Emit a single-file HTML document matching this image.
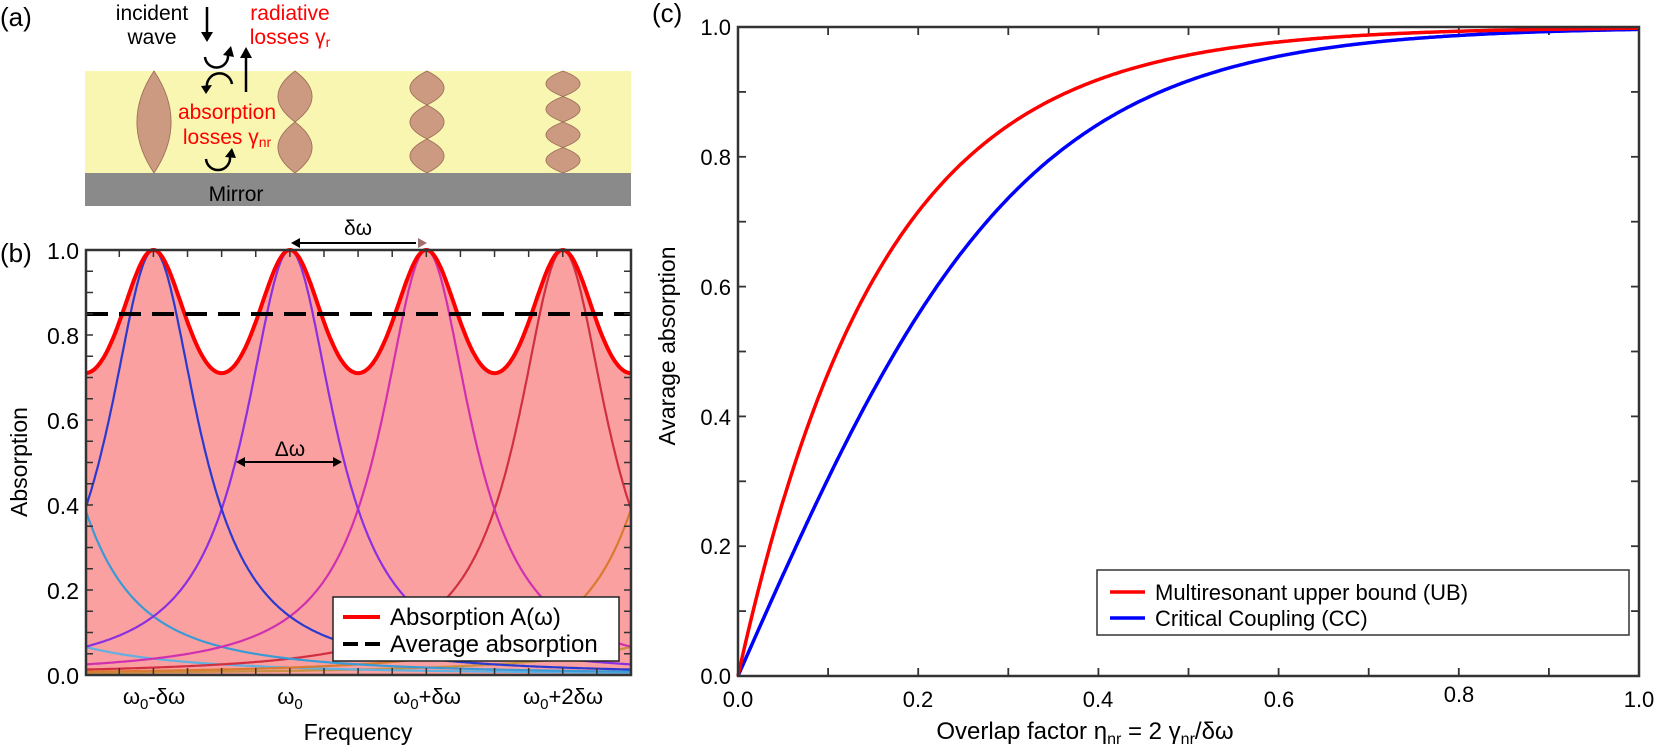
<!DOCTYPE html>
<html><head><meta charset="utf-8"><style>
html,body{margin:0;padding:0;background:#fff;}
svg{display:block;font-family:"Liberation Sans",sans-serif;}
</style></head><body>
<svg id="s" width="1661" height="746" viewBox="0 0 1661 746" xmlns="http://www.w3.org/2000/svg">
<!-- panel a -->
<rect x="85" y="71" width="546" height="102" fill="#f8f6b0"/>
<rect x="85" y="173" width="546" height="33" fill="#8a8a8a"/>
<g fill="#cc9a80" stroke="#9a6a5a" stroke-width="0.8" id="lenses"></g>
<text x="0" y="26" font-size="26">(a)</text>
<text x="152" y="20" font-size="21" text-anchor="middle">incident</text>
<text x="152" y="44" font-size="21" text-anchor="middle">wave</text>
<text x="290" y="20" font-size="21" fill="#ff0000" text-anchor="middle">radiative</text>
<text x="290" y="44" font-size="21" fill="#ff0000" text-anchor="middle">losses γ<tspan font-size="14" dy="3">r</tspan></text>
<text x="227" y="119" font-size="21" fill="#ff0000" text-anchor="middle">absorption</text>
<text x="227" y="144" font-size="21" fill="#ff0000" text-anchor="middle">losses γ<tspan font-size="14" dy="3">nr</tspan></text>
<text x="236" y="201" font-size="21" text-anchor="middle">Mirror</text>
<g stroke="#000" stroke-width="2.5" fill="none">
<line x1="207" y1="7" x2="207" y2="36"/>
<line x1="246" y1="92" x2="246" y2="56"/>
<path d="M205,57 A11,11 0 0 0 228,55"/>
<path d="M207,88 A11,11 0 0 1 232,84"/>
<path d="M206,159 A11,11 0 0 0 230,157"/>
</g>
<g fill="#000">
<polygon points="201,32 213,32 207,42"/>
<polygon points="240,58 252,58 246,47"/>
<polygon points="223,55 234,57 231,46"/>
<polygon points="201,86 212,85 206,94"/>
<polygon points="225,157 236,158 232,148"/>
</g>
<!-- panel b -->
<text x="0" y="262" font-size="26">(b)</text>
<path id="fill" fill="#fba0a0"/>
<g id="lor" fill="none" stroke-width="2.2"></g>
<path id="red" fill="none" stroke="#ff0000" stroke-width="4"/>
<line x1="86" y1="314" x2="631" y2="314" stroke="#000" stroke-width="4" stroke-dasharray="22,11"/>
<g id="baxes" stroke="#333" stroke-width="1.5"></g>
<rect x="86" y="250" width="545" height="425" fill="none" stroke="#333" stroke-width="2.5"/>
<g font-size="23" text-anchor="end">
<text x="79" y="259">1.0</text><text x="79" y="344">0.8</text><text x="79" y="429">0.6</text>
<text x="79" y="514">0.4</text><text x="79" y="599">0.2</text><text x="79" y="684">0.0</text>
</g>
<g font-size="22" text-anchor="middle">
<text x="154" y="704">ω<tspan font-size="15" dy="5">0</tspan><tspan dy="-5">-δω</tspan></text>
<text x="290" y="704">ω<tspan font-size="15" dy="5">0</tspan></text>
<text x="427" y="704">ω<tspan font-size="15" dy="5">0</tspan><tspan dy="-5">+δω</tspan></text>
<text x="563" y="704">ω<tspan font-size="15" dy="5">0</tspan><tspan dy="-5">+2δω</tspan></text>
<text x="358" y="740" font-size="23">Frequency</text>
<text transform="translate(27,462) rotate(-90)" font-size="23">Absorption</text>
<text x="358" y="235" font-size="21">δω</text>
<text x="290" y="456" font-size="21">Δω</text>
</g>
<g stroke="#000" stroke-width="2">
<line x1="296" y1="243" x2="416" y2="243"/>
<line x1="242" y1="462" x2="336" y2="462"/>
</g>
<polygon points="291,243 300,238 300,248" fill="#000"/>
<polygon points="427,243 418,238 418,248" fill="#a07070"/>
<polygon points="236,462 245,457 245,467" fill="#000"/>
<polygon points="342,462 333,457 333,467" fill="#000"/>
<rect x="333" y="597" width="286" height="64" fill="#fff" stroke="#222" stroke-width="1.5"/>
<line x1="343" y1="617" x2="380" y2="617" stroke="#ff0000" stroke-width="4"/>
<line x1="343" y1="644" x2="380" y2="644" stroke="#000" stroke-width="4" stroke-dasharray="15,7"/>
<text x="390" y="625" font-size="24">Absorption A(ω)</text>
<text x="390" y="652" font-size="24">Average absorption</text>
<!-- panel c -->
<text x="652" y="22" font-size="26">(c)</text>
<g id="caxes" stroke="#333" stroke-width="1.8"></g>
<path id="cb" fill="none" stroke="#0000ff" stroke-width="3.5"/>
<path id="cr" fill="none" stroke="#ff0000" stroke-width="3.5"/>
<rect x="738" y="27" width="901" height="649" fill="none" stroke="#333" stroke-width="2.5"/>
<g font-size="22" text-anchor="end">
<text x="731" y="35">1.0</text><text x="731" y="165">0.8</text><text x="731" y="295">0.6</text>
<text x="731" y="425">0.4</text><text x="731" y="554">0.2</text><text x="731" y="684">0.0</text>
</g>
<g font-size="22" text-anchor="middle">
<text x="738" y="707">0.0</text><text x="918" y="707">0.2</text><text x="1098" y="707">0.4</text>
<text x="1279" y="707">0.6</text><text x="1459" y="702">0.8</text><text x="1639" y="707">1.0</text>
<text x="1085" y="739" font-size="24">Overlap factor η<tspan font-size="16" dy="5">nr</tspan><tspan dy="-5"> = 2 γ</tspan><tspan font-size="16" dy="5">nr</tspan><tspan dy="-5">/δω</tspan></text>
<text transform="translate(675,346) rotate(-90)" font-size="23">Avarage absorption</text>
</g>
<rect x="1097" y="570" width="532" height="65" fill="#fff" stroke="#333" stroke-width="1.5"/>
<line x1="1110" y1="592" x2="1145" y2="592" stroke="#ff0000" stroke-width="3.5"/>
<line x1="1110" y1="618" x2="1145" y2="618" stroke="#0000ff" stroke-width="3.5"/>
<text x="1155" y="600" font-size="22">Multiresonant upper bound (UB)</text>
<text x="1155" y="626" font-size="22">Critical Coupling (CC)</text>
</svg>
<script>
var NS="http://www.w3.org/2000/svg";
function el(p,t,a){var e=document.createElementNS(NS,t);for(var k in a)e.setAttribute(k,a[k]);p.appendChild(e);return e;}
var L=document.getElementById('lenses');
function lobes(cx,n){var top=71,h=102/n;for(var i=0;i<n;i++){var y0=top+i*h,y1=y0+h,w=18;
el(L,'path',{d:'M'+cx+','+y0+' Q'+(cx+w*1.9)+','+((y0+y1)/2)+' '+cx+','+y1+' Q'+(cx-w*1.9)+','+((y0+y1)/2)+' '+cx+','+y0+'Z'});}}
lobes(154,1);lobes(295,2);lobes(427,3);lobes(563,4);
var X0=86,X1=631,Y0=675,Y1=250,xa=-0.494,xb=3.5;
function px(x){return X0+(x-xa)/(xb-xa)*(X1-X0);}
function py(y){return Y0-y*(Y0-Y1);}
function red(x){var s=Math.sin(Math.PI*x);return 1/(1+0.408*s*s);}
var d='',f='M'+X0+','+Y0;
for(var i=0;i<=600;i++){var x=xa+(xb-xa)*i/600,X=px(x).toFixed(1),Y=py(red(x)).toFixed(1);d+=(i?'L':'M')+X+','+Y;f+='L'+X+','+Y;}
f+='L'+X1+','+Y0+'Z';
document.getElementById('red').setAttribute('d',d);document.getElementById('fill').setAttribute('d',f);
var cols={'-1':'#3a9ad6','0':'#2a3ad0','1':'#8a30e0','2':'#d030b0','3':'#d03040','4':'#d87a30','5':'#c89040','-2':'#60b0e0'};
var G=document.getElementById('lor');
[5,-2,4,3,-1,2,1,0].forEach(function(c){var dd='';for(var i=0;i<=400;i++){var x=xa+(xb-xa)*i/400,u=(x-c)/0.4,v=1/(1+u*u);dd+=(i?'L':'M')+px(x).toFixed(1)+','+py(v).toFixed(1);}el(G,'path',{d:dd,stroke:cols[c]});});
var BA=document.getElementById('baxes');
for(var k=0;k<=20;k++){var y=Y0-k*(Y0-Y1)/20;el(BA,'line',{x1:X0,y1:y,x2:X0+7,y2:y});el(BA,'line',{x1:X1,y1:y,x2:X1-7,y2:y});}
for(var k=-2;k<=14;k++){var x=px(k*0.25);if(x<X0||x>X1)continue;el(BA,'line',{x1:x,y1:Y0,x2:x,y2:Y0-7});el(BA,'line',{x1:x,y1:Y1,x2:x,y2:Y1+7});}
var C0=738,C1=1639,D0=676,D1=27;
function cx(e){return C0+e*(C1-C0);}function cy(v){return D0-v*(D0-D1);}
var r='',b='';for(var i=0;i<=500;i++){var e=i/500;r+=(i?'L':'M')+cx(e).toFixed(1)+','+cy(1-Math.exp(-2*Math.PI*e)).toFixed(1);b+=(i?'L':'M')+cx(e).toFixed(1)+','+cy(Math.tanh(Math.PI*e)).toFixed(1);}
document.getElementById('cr').setAttribute('d',r);document.getElementById('cb').setAttribute('d',b);
var CA=document.getElementById('caxes');
for(var k=1;k<10;k++){var y=cy(k/10),x=cx(k/10);el(CA,'line',{x1:C0,y1:y,x2:C0+8,y2:y});el(CA,'line',{x1:C1,y1:y,x2:C1-8,y2:y});el(CA,'line',{x1:x,y1:D0,x2:x,y2:D0-8});el(CA,'line',{x1:x,y1:D1,x2:x,y2:D1+8});}
</script>
</body></html>
